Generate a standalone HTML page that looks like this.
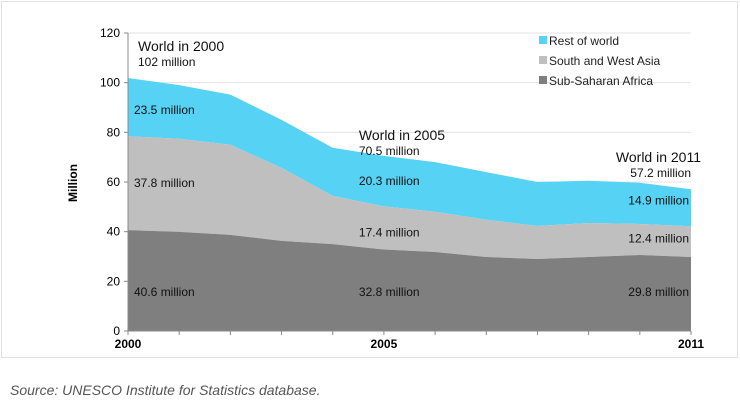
<!DOCTYPE html>
<html><head><meta charset="utf-8"><style>
body{margin:0;background:#fff;width:740px;height:414px;overflow:hidden;font-family:"Liberation Sans",Arial,sans-serif}
svg text{font-family:"Liberation Sans",Arial,sans-serif}
</style></head><body>
<svg id="chart" width="740" height="414" xmlns="http://www.w3.org/2000/svg">
<rect x="1.5" y="1.5" width="736" height="356" fill="#fff" stroke="#e0e0e0"/>
<g id="grid"></g><g id="areas"></g><g id="axes"></g><g id="labels"></g>
<text transform="translate(77,183) rotate(-90)" text-anchor="middle" font-size="12" font-weight="bold">Million</text>
<g font-size="12" fill="#222">
<rect x="539" y="36" width="8" height="8" fill="#56d2f5"/><text x="549" y="45">Rest of world</text>
<rect x="539" y="56" width="8" height="8" fill="#bfbfbf"/><text x="549" y="65">South and West Asia</text>
<rect x="539" y="76" width="8" height="8" fill="#7f7f7f"/><text x="549" y="85">Sub-Saharan Africa</text>
</g>
<text x="10" y="395" font-size="14" font-style="italic" fill="#555">Source: UNESCO Institute for Statistics database.</text>
</svg>
<script>
const years=[2000,2001,2002,2003,2004,2005,2006,2007,2008,2009,2010,2011];
const africa=[40.6,39.9,38.7,36.3,35,32.8,31.8,29.8,29,29.8,30.6,29.8];
const asia=[37.8,37.5,36.3,29.4,19.4,17.4,16.2,15,13.3,13.7,12.5,12.4];
const rest=[23.5,21.6,20.2,19.3,19.4,20.3,20,19.2,17.7,17,16.6,14.9];
const worldTotals=['102','70.5','57.2'];
const yTicks=[0,20,40,60,80,100,120];
const xTickLabels=[2000,2005,2011];
const NS="http://www.w3.org/2000/svg";
const x0=128,x1=691,y0=331,y1=33;
const X=y=>x0+(y-years[0])/(years[years.length-1]-years[0])*(x1-x0);
const Y=v=>y0-v/120*(y0-y1);
function mk(tag,attrs,parent){const e=document.createElementNS(NS,tag);for(const k in attrs)e.setAttribute(k,attrs[k]);parent.appendChild(e);return e;}
const grid=document.getElementById('grid'),areas=document.getElementById('areas'),axes=document.getElementById('axes'),labels=document.getElementById('labels');
yTicks.forEach(t=>{
 if(t>0){const g=mk('line',{x1:x0,x2:x1,y1:Y(t),y2:Y(t),stroke:'#e3e3e3'},grid);
 
 }
 const tk=mk('line',{x1:x0-4,x2:x0,y1:Y(t),y2:Y(t),stroke:'#888'},axes);
 
 
 const tx=mk('text',{x:x0-8,y:Y(t)+4,'text-anchor':'end','font-size':12},axes);tx.textContent=t;
 
 
});
const c1=africa,c2=africa.map((v,i)=>v+asia[i]),c3=c2.map((v,i)=>v+rest[i]);
function area(top,bot,fill,name){
 let d='M'+years.map((y,i)=>X(y)+','+Y(top[i])).join('L');
 for(let i=years.length-1;i>=0;i--)d+='L'+X(years[i])+','+Y(bot[i]);
 const p=mk('path',{d:d+'Z',fill:fill},areas);
 
 
}
const zero=years.map(()=>0);
area(c3,c2,'#56d2f5','area-rest-of-world');
area(c2,c1,'#bfbfbf','area-south-west-asia');
area(c1,zero,'#7f7f7f','area-sub-saharan-africa');
const ax=mk('line',{x1:x0,x2:x0,y1:y1,y2:y0,stroke:'#888'},axes);


const bx=mk('line',{x1:x0,x2:x1,y1:y0,y2:y0,stroke:'#888'},axes);


years.forEach(y=>{const t=mk('line',{x1:X(y),x2:X(y),y1:y0,y2:y0+4,stroke:'#888'},axes);
 
 });
xTickLabels.forEach(y=>{const t=mk('text',{x:X(y),y:y0+17,'text-anchor':'middle','font-size':12,'font-weight':'bold'},axes);t.textContent=y;
 
 });
function fmt(v){return (Math.round(v*10)/10)+' million';}
const idx=[0,5,11];
idx.forEach((i,k)=>{
 const lx=k===0?X(years[i])+6:(k===1?X(years[i])-25:X(years[i])-2);
 const anc=k===2?'end':'start';
 const offs=[[0.5,0.5,0.45],[0.5,0.4,0.5],[0.5,0.6,0.7]][k];
 [[africa,c1,zero],[asia,c2,c1],[rest,c3,c2]].forEach((s,j)=>{
  let yy=j===0?296:Y(s[2][i])+(Y(s[1][i])-Y(s[2][i]))*offs[j]+4;
  const t=mk('text',{x:lx,y:yy,'font-size':12,'text-anchor':anc,fill:'#111'},labels);
  t.textContent=fmt(s[0][i]);
  
  
 });
 const wy=k===0?Y(c3[i])-27:(k===1?Y(c3[i])-16:Y(c3[i])-27);
 const wx=k===0?X(years[i])+10:(k===1?lx:X(years[i])+10);
 const t1=mk('text',{x:wx,y:wy,'font-size':14,'text-anchor':anc,fill:'#111'},labels);t1.textContent='World in '+years[i];
 
 
 const t2=mk('text',{x:k===2?wx-10:wx,y:wy+15,'font-size':12,'text-anchor':anc,fill:'#111'},labels);t2.textContent=worldTotals[k]+' million';
 
 
});
</script>
</body></html>
